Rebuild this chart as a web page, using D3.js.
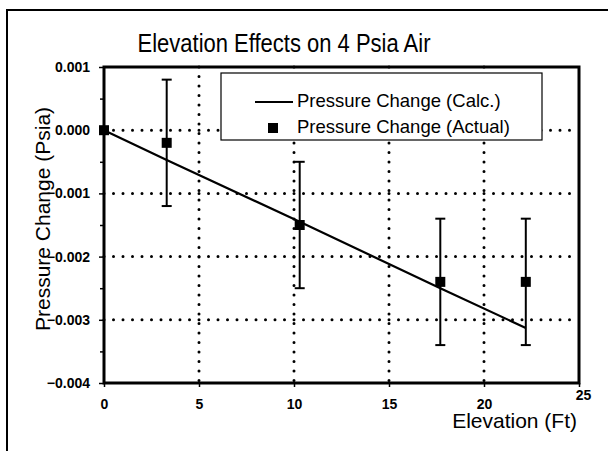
<!DOCTYPE html>
<html>
<head>
<meta charset="utf-8">
<script src="https://cdn.jsdelivr.net/npm/d3@7"></script>
<style>
  body { margin: 0; background: #fff; }
  text { font-family: "Liberation Sans", Arial, sans-serif; fill: #000; }
</style>
</head>
<body>
<div id="chart"></div>
<script>
var elevation = [0, 3.3, 10.3, 17.7, 22.2];
var actual    = [0.0000, -0.0002, -0.0015, -0.0024, -0.0024];
var errLow    = [0.0000, -0.0012, -0.0025, -0.0034, -0.0034];
var errHigh   = [0.0000,  0.0008, -0.0005, -0.0014, -0.0014];
var calc      = [0.0000, -0.00047, -0.00145, -0.0025, -0.00313];
var xTicks = [0, 5, 10, 15, 20, 25];
var yTicks = [0.001, 0, -0.001, -0.002, -0.003, -0.004];
var legendNames = ["Pressure Change (Calc.)", "Pressure Change (Actual)"];

var width = 608, height = 451;
var margin = {top: 67, right: 29, bottom: 68, left: 104};
var w = width - margin.left - margin.right,
    h = height - margin.top - margin.bottom;

var svg = d3.select("#chart").append("svg")
    .attr("width", width)
    .attr("height", height);

// outer frame
svg.append("path")
    .attr("d", "M7,451 L7,10 L608,10")
    .style("fill", "none")
    .style("stroke", "#000")
    .style("stroke-width", 2);

// title, slightly stretched like the scanned original
svg.append("text")
    .attr("transform", "translate(284,52) scale(1,1.14)")
    .attr("text-anchor", "middle")
    .style("font-size", "22px")
    .text("Elevation Effects on 4 Psia Air");

var x = d3.scaleLinear().domain([0, 25]).range([0, w]);
var y = d3.scaleLinear().domain([-0.004, 0.001]).range([h, 0]);

var graph = svg.append("g")
    .attr("transform", "translate(" + margin.left + "," + margin.top + ")");

// dotted grid
graph.selectAll(".hgrid")
    .data(yTicks.slice(1, 5))
    .enter().append("line")
    .attr("class", "hgrid")
    .attr("x1", 0).attr("x2", w)
    .attr("y1", function(d) { return y(d); })
    .attr("y2", function(d) { return y(d); })
    .style("stroke", "#000")
    .style("stroke-width", 3)
    .style("stroke-linecap", "round")
    .style("stroke-dasharray", "0,9.5");

graph.selectAll(".vgrid")
    .data(xTicks.slice(1, 5))
    .enter().append("line")
    .attr("class", "vgrid")
    .attr("y1", 0).attr("y2", h)
    .attr("x1", function(d) { return x(d); })
    .attr("x2", function(d) { return x(d); })
    .style("stroke", "#000")
    .style("stroke-width", 3)
    .style("stroke-linecap", "round")
    .style("stroke-dasharray", "0,9.5");

// axes
var yAxis = d3.axisLeft(y)
    .tickValues(yTicks)
    .tickSize(5)
    .tickPadding(9)
    .tickFormat(d3.format(".3f"));
var yMinor = d3.axisLeft(y)
    .tickValues(d3.range(-0.0035, 0.001, 0.001))
    .tickSize(4)
    .tickFormat("");
var xAxis = d3.axisBottom(x)
    .tickValues(xTicks)
    .tickSize(4)
    .tickPadding(12)
    .tickFormat(d3.format("d"));

graph.append("g").call(yAxis);
graph.append("g").call(yMinor);
var gx = graph.append("g").attr("transform", "translate(0," + h + ")").call(xAxis);

svg.selectAll(".domain").remove();
svg.selectAll(".tick line").style("stroke", "#000").style("stroke-width", 1.5);
svg.selectAll(".tick text")
    .style("font-family", "'Liberation Sans', Arial, sans-serif")
    .style("font-size", "14px")
    .style("font-weight", "bold")
    .style("fill", "#000");
gx.selectAll(".tick text").filter(function(d) { return d === 25; }).attr("dy", "0.1em").attr("dx", "4px");

// plot frame
graph.append("path")
    .attr("d", "M0,0 H" + w + " V" + h + " H0 Z")
    .style("fill", "none")
    .style("stroke", "#000")
    .style("stroke-width", 3);

// axis titles
svg.append("text")
    .attr("transform", "translate(50," + (margin.top + y(-0.0015) - 6) + ") rotate(-90)")
    .attr("text-anchor", "middle")
    .style("font-size", "21px")
    .text("Pressure Change (Psia)");

svg.append("text")
    .attr("x", 577)
    .attr("y", 428)
    .attr("text-anchor", "end")
    .style("font-size", "21px")
    .text("Elevation (Ft)");

// calc line
var line = d3.line()
    .x(function(d) { return x(d[0]); })
    .y(function(d) { return y(d[1]); });
graph.append("path")
    .attr("d", line(d3.zip(elevation, calc)))
    .style("fill", "none")
    .style("stroke", "#000")
    .style("stroke-width", 2.2);

// error bars
var pts = elevation.map(function(e, i) {
  return {x: e, y: actual[i], lo: errLow[i], hi: errHigh[i]};
});
var bars = graph.selectAll(".err").data(pts.filter(function(d) { return d.hi !== d.lo; }))
    .enter().append("g")
    .attr("class", "err");
bars.append("line")
    .attr("x1", function(d) { return x(d.x); }).attr("x2", function(d) { return x(d.x); })
    .attr("y1", function(d) { return y(d.hi); }).attr("y2", function(d) { return y(d.lo); })
    .style("stroke", "#000").style("stroke-width", 2);
["hi", "lo"].forEach(function(k) {
  bars.append("line")
      .attr("x1", function(d) { return x(d.x) - 5; }).attr("x2", function(d) { return x(d.x) + 5; })
      .attr("y1", function(d) { return y(d[k]); }).attr("y2", function(d) { return y(d[k]); })
      .style("stroke", "#000").style("stroke-width", 2);
});

// actual points
graph.selectAll(".pt").data(pts)
    .enter().append("rect")
    .attr("class", "pt")
    .attr("x", function(d) { return x(d.x) - 5; })
    .attr("y", function(d) { return y(d.y) - 5; })
    .attr("width", 10).attr("height", 10)
    .style("fill", "#000");

// legend
var legend = svg.append("g").attr("class", "legend");
legend.append("rect")
    .attr("x", 221).attr("y", 73)
    .attr("width", 321).attr("height", 67)
    .style("fill", "#fff")
    .style("stroke", "#000")
    .style("stroke-width", 1.2);
legend.append("line")
    .attr("x1", 255).attr("x2", 293)
    .attr("y1", 102).attr("y2", 102)
    .style("stroke", "#000").style("stroke-width", 2);
legend.append("rect")
    .attr("x", 268).attr("y", 123)
    .attr("width", 10).attr("height", 10)
    .style("fill", "#000");
legend.selectAll(".lt").data(legendNames)
    .enter().append("text")
    .attr("class", "lt")
    .attr("x", 297)
    .attr("y", function(d, i) { return 107 + i * 26; })
    .style("font-size", "18.5px")
    .text(function(d) { return d; });
</script>
</body>
</html>
